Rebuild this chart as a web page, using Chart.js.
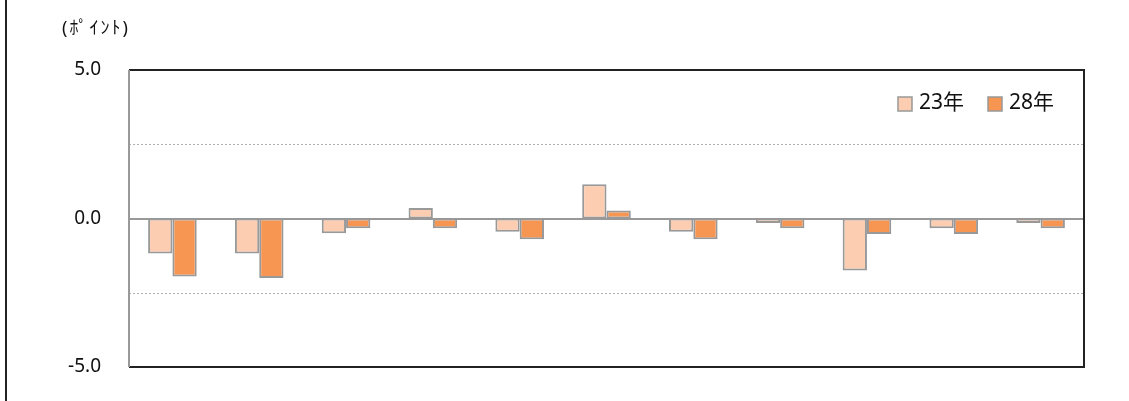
<!DOCTYPE html>
<html>
<head>
<meta charset="utf-8">
<script src="https://cdn.jsdelivr.net/npm/chart.js@4"></script>
<style>
  html, body { margin: 0; padding: 0; background: #fff; }
  #wrap { width: 1129px; height: 401px; }
</style>
</head>
<body>
<div id="wrap"><canvas id="myChart" width="1129" height="401"></canvas></div>
<script>
// data
const categories = ['1', '2', '3', '4', '5', '6', '7', '8', '9', '10', '11'];
const values23 = [-1.18, -1.18, -0.5, 0.35, -0.45, 1.15, -0.45, -0.15, -1.75, -0.33, -0.15];
const values28 = [-1.95, -2.0, -0.33, -0.33, -0.7, 0.27, -0.7, -0.33, -0.52, -0.52, -0.33];
const yTicks = [-5, 0, 5];
const unitLabel = '(ﾎﾟｲﾝﾄ)';

const FONT = "'Noto Sans', 'Noto Sans CJK JP', sans-serif";

// frame, dotted grid lines, legend and the unit label
const framePlugin = {
  id: 'frame',
  beforeDatasetsDraw(chart) {
    const { ctx, chartArea: a, scales: { y } } = chart;
    ctx.save();
    // dotted lines at +-2.5
    ctx.strokeStyle = '#b0b0b0';
    ctx.lineWidth = 1;
    ctx.setLineDash([2, 2]);
    [2.5, -2.5].forEach(v => {
      const py = Math.round(y.getPixelForValue(v)) + 0.5;
      ctx.beginPath();
      ctx.moveTo(a.left, py);
      ctx.lineTo(a.right, py);
      ctx.stroke();
    });
    ctx.setLineDash([]);
    // zero line
    ctx.strokeStyle = '#999';
    ctx.lineWidth = 2;
    const y0 = Math.round(y.getPixelForValue(0));
    ctx.beginPath();
    ctx.moveTo(a.left, y0);
    ctx.lineTo(a.right + 1, y0);
    ctx.stroke();
    ctx.restore();
  },
  afterDraw(chart) {
    const { ctx, chartArea: a } = chart;
    ctx.save();
    ctx.lineWidth = 2;
    ctx.strokeStyle = '#222';
    ctx.beginPath();
    ctx.moveTo(a.left, a.top);
    ctx.lineTo(a.right, a.top);
    ctx.lineTo(a.right, a.bottom);
    ctx.lineTo(a.left, a.bottom);
    ctx.stroke();
    ctx.strokeStyle = '#999';
    ctx.beginPath();
    ctx.moveTo(a.left, a.top);
    ctx.lineTo(a.left, a.bottom);
    ctx.stroke();
    // outer border (left side visible)
    ctx.strokeStyle = '#222';
    ctx.beginPath();
    ctx.moveTo(6, 0);
    ctx.lineTo(6, chart.height);
    ctx.stroke();
    ctx.fillStyle = '#111';
    ctx.textBaseline = 'middle';
    ctx.font = '18px ' + FONT;
    ctx.letterSpacing = '2px';
    ctx.fillText(unitLabel, 62, 29);
    ctx.letterSpacing = '0px';
    // legend, top right inside the plot
    ctx.font = '21px ' + FONT;
    const legendX = [898, 988];
    chart.data.datasets.forEach((ds, i) => {
      const x = legendX[i];
      ctx.fillStyle = ds.backgroundColor;
      ctx.fillRect(x, 97, 14, 14);
      ctx.strokeStyle = '#999';
      ctx.lineWidth = 1.5;
      ctx.strokeRect(x, 97, 14, 14);
      ctx.fillStyle = '#111';
      ctx.fillText(ds.label, x + 21, 103);
    });
    ctx.restore();
  }
};

const ctx = document.getElementById('myChart').getContext('2d');

new Chart(ctx, {
  type: 'bar',
  data: {
    labels: categories,
    datasets: [{
      label: '23年',
      data: values23,
      backgroundColor: '#fccdb0',
      borderColor: '#999',
      borderWidth: 2,
      borderSkipped: false
    }, {
      label: '28年',
      data: values28,
      backgroundColor: '#f79552',
      borderColor: '#999',
      borderWidth: 2,
      borderSkipped: false
    }]
  },
  options: {
    responsive: false,
    animation: false,
    layout: {
      padding: { top: 70, right: 45, bottom: 34, left: 0 }
    },
    datasets: {
      bar: { categoryPercentage: 0.56, barPercentage: 1.0 }
    },
    scales: {
      x: {
        ticks: { display: false },
        grid: { display: false },
        border: { display: false },
        afterFit(scale) { scale.height = 0; }
      },
      y: {
        min: -5,
        max: 5,
        afterBuildTicks(scale) {
          scale.ticks = yTicks.map(v => ({ value: v }));
        },
        afterFit(scale) {
          scale.width = 129;
          scale.paddingTop = 0;
          scale.paddingBottom = 0;
        },
        ticks: {
          padding: 20,
          color: '#111',
          font: { family: FONT, size: 19 },
          callback: v => v.toFixed(1)
        },
        grid: { display: false },
        border: { display: false }
      }
    },
    plugins: {
      legend: { display: false },
      tooltip: { enabled: false }
    }
  },
  plugins: [framePlugin]
});
</script>
</body>
</html>
